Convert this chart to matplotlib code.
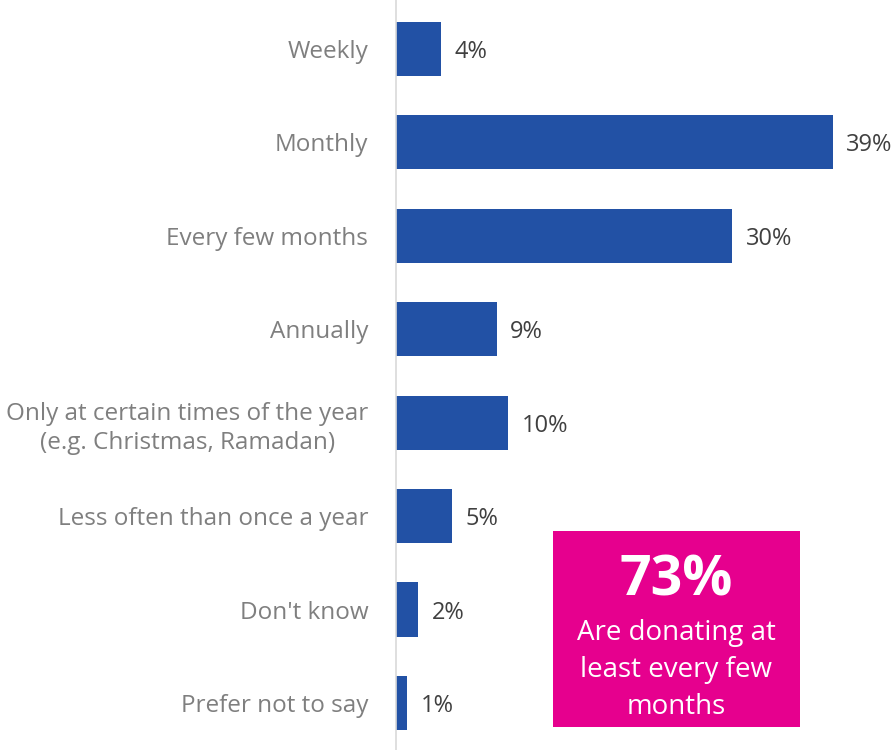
import matplotlib.pyplot as plt
from matplotlib.patches import Rectangle

categories = ["Weekly", "Monthly", "Every few months", "Annually",
              "Only at certain times of the year\n(e.g. Christmas, Ramadan)",
              "Less often than once a year", "Don't know", "Prefer not to say"]
values = [4, 39, 30, 9, 10, 5, 2, 1]
headline = "73%"
headline_note = "Are donating at\nleast every few\nmonths"

plt.rcParams['font.family'] = ['Open Sans', 'DejaVu Sans']

fig = plt.figure(figsize=(8.96, 7.5), dpi=100)
ax = fig.add_axes([396 / 896, 0, 1 - 396 / 896, 1])

pos = list(range(len(categories)))
ax.barh(pos, values, height=0.58, color="#2251A5")
ax.set_xlim(0, 44.64)
ax.set_ylim(7.503, -0.524)

for p, v in zip(pos, values):
    ax.text(v + 1.2, p, f"{v}%", va="center_baseline", ha="left", fontsize=17,
            color="#404040")

ax.set_yticks(pos)
ax.set_yticklabels(categories, fontsize=17.5, color="#7f7f7f", ha="right",
                   multialignment="center", linespacing=1.3)
ax.tick_params(axis="y", length=0, pad=20)
ax.set_xticks([])
for s in ["top", "right", "bottom"]:
    ax.spines[s].set_visible(False)
ax.spines["left"].set_color("#d9d9d9")
ax.spines["left"].set_linewidth(1.2)

# callout box
box = Rectangle((553 / 896, 1 - 727 / 750), 247 / 896, 196 / 750,
                transform=fig.transFigure, facecolor="#E6008E", edgecolor="none")
fig.patches.append(box)
cx = 676 / 896
fig.text(cx, 1 - 574 / 750, headline, ha="center", va="center_baseline", fontsize=40,
         fontweight="bold", color="white")
fig.text(cx, 1 - 670 / 750, headline_note, ha="center", va="center", fontsize=20,
         color="white", linespacing=1.45)

fig.savefig("out.png", dpi=100)
